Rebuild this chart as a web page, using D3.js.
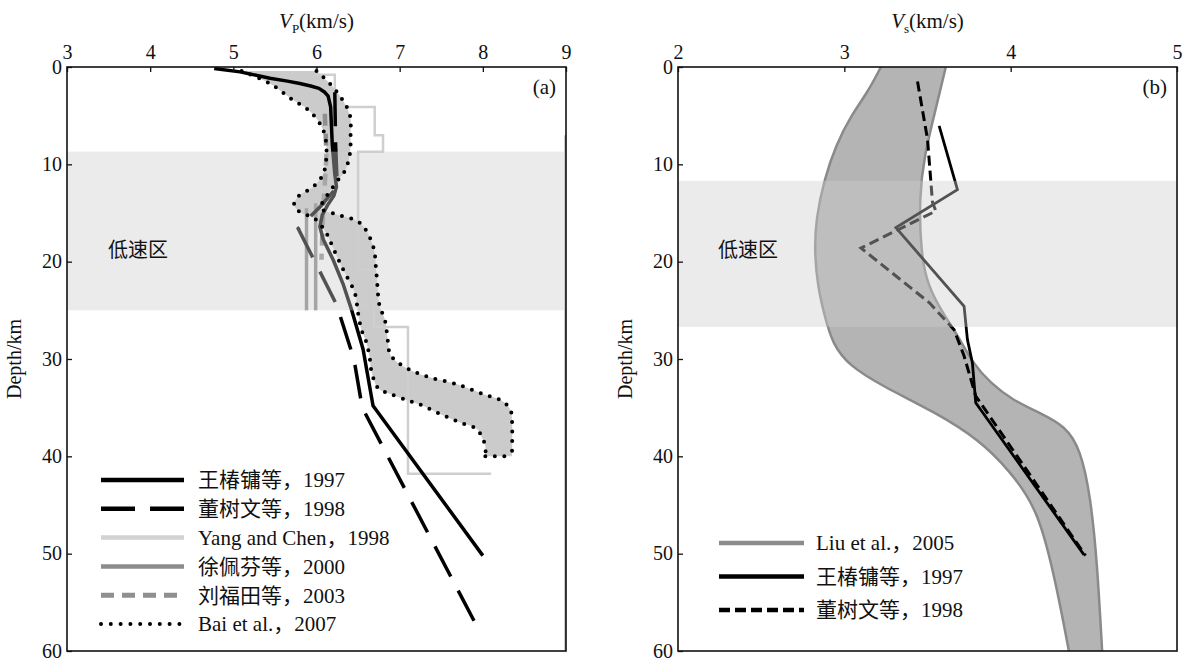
<!DOCTYPE html>
<html>
<head>
<meta charset="utf-8">
<script src="https://cdn.jsdelivr.net/npm/d3@7/dist/d3.min.js"></script>
<style>
  body { margin: 0; background: #fff; }
  svg text { font-family: "Liberation Serif", "Noto Sans CJK SC", serif; fill: #111; }
</style>
</head>
<body>
<svg width="1183" height="662"></svg>
<script>
// all profiles are [velocity km/s, depth km]
var depthTicks = [0, 10, 20, 30, 40, 50, 60];
var vpTicks = [3, 4, 5, 6, 7, 8, 9];
var vsTicks = [2, 3, 4, 5];
var lvzA = [8.7, 25];
var lvzB = [11.7, 26.7];

// panel (a) - Vp
var wangA = [[4.77,0.15],[5.08,0.5],[5.44,1.15],[5.65,1.45],[5.8,1.7],[5.93,1.95],[6.03,2.2],[6.1,2.6],[6.14,3.0],
  [6.17,4.1],[6.19,8],[6.22,11],[6.24,12.3],[6.21,13.2],[6.14,14.1],[6.07,15.2],[6.04,16.4],[6.08,17.7],[6.2,19.8],
  [6.32,22.3],[6.42,24.9],[6.56,29],[6.68,34.8],[8.0,50.2]];
var dongA = [[6.22,2.6],[6.23,8],[6.25,12.3],[6.05,14.3],[5.78,16.6],[6.24,24.4],[6.45,30],[6.55,35],[7.98,58.3]];
var yangA = [[6.0,0],[6.0,0.8],[6.22,0.8],[6.22,4.1],[6.7,4.1],[6.7,7],[6.8,7],[6.8,8.7],[6.5,8.7],[6.5,20.8],
  [6.69,20.8],[6.69,26.7],[7.1,26.7],[7.1,41.8],[8.1,41.8]];
var xuA = [[5.88,14.5],[5.88,25],null,[5.99,14],[5.99,25]];
var liuFTA = [[6.1,4.8],[6.12,9],[6.1,12],[6.08,14.5],[6.06,19.8]];
var baiLow = [[5.1,0.4],[5.44,1.7],[5.7,3.3],[5.9,4.4],[6.04,5.8],[6.1,7],[6.12,9],[6.08,11],[5.96,12.3],[5.78,13.3],
  [5.73,14.2],[5.8,14.9],[5.98,15.6],[6.12,17.1],[6.2,18.6],[6.32,20.8],[6.46,23.2],[6.5,25.3],[6.54,27],[6.6,28.3],
  [6.64,29.9],[6.66,31.2],[6.74,33],[6.86,33.5],[7.08,34.2],[7.28,34.8],[7.5,35.7],[7.72,36.5],[7.93,37.2],[7.99,38.1],
  [8.03,38.9],[8.03,40]];
var baiHigh = [[6.0,0.4],[6.16,1.7],[6.3,3.2],[6.4,4.9],[6.41,7],[6.4,9],[6.34,10.7],[6.26,11.6],[6.16,12.8],[6.08,13.8],
  [6.05,14.5],[6.22,15.1],[6.52,16],[6.68,18.4],[6.72,21.2],[6.76,24.6],[6.82,25.9],[6.86,28.3],[6.88,29.4],[6.94,30.1],
  [7.12,31.1],[7.37,31.9],[7.69,32.6],[8.0,33.6],[8.23,34.3],[8.33,35.2],[8.35,36.2],[8.35,40]];
var edgeA = [[9,7],[9,60]];
var legendA = ["王椿镛等，1997", "董树文等，1998", "Yang and Chen，1998", "徐佩芬等，2000", "刘福田等，2003", "Bai et al.，2007"];

// panel (b) - Vs
var liuLow = [[3.22,0],[3.14,2.6],[3.04,5],[2.95,8],[2.88,11.5],[2.83,15.5],[2.82,19],[2.84,22.5],[2.88,25.5],[2.93,28.5],
  [3.03,30.7],[3.23,32.8],[3.55,35.5],[3.81,38.3],[3.99,41.4],[4.17,45.5],[4.28,53.7],[4.35,60]];
var liuHigh = [[3.61,0],[3.55,4.3],[3.48,9.1],[3.45,13.5],[3.46,19],[3.5,22.5],[3.6,25.5],[3.68,27.5],[3.77,30.4],[3.88,32.5],
  [4.01,34.2],[4.17,35.5],[4.33,36.9],[4.42,39.3],[4.48,44.1],[4.52,50.9],[4.55,60]];
var wangB = [[3.57,6.05],[3.68,12.6],[3.31,16.5],[3.72,24.6],[3.74,28],[3.77,30.4],[3.79,34.5],[4.44,50.1]];
var dongB = [[3.44,1.5],[3.5,7.4],[3.53,13.9],[3.55,14.8],[3.1,18.6],[3.51,24.2],[3.66,27],[3.72,29.7],[3.79,33.8],[4.45,50.2]];
var legendB = ["Liu et al.，2005", "王椿镛等，1997", "董树文等，1998"];

var svg = d3.select("svg");
var top0 = 67, bottom0 = 651;

var xA = d3.scaleLinear().domain([3, 9]).range([67, 566]),
    xB = d3.scaleLinear().domain([2, 5]).range([678, 1177]),
    y = d3.scaleLinear().domain([0, 60]).range([top0, bottom0]);

function lineFor(x, curve) {
  return d3.line()
    .defined(function(d) { return d; })
    .x(function(d) { return x(d[0]); })
    .y(function(d) { return y(d[1]); })
    .curve(curve || d3.curveLinear);
}

// closed band between two curves, each one smoothed on its own
function band(gen, low, high) {
  return gen(low) + gen(high.slice().reverse()).replace(/^M/, "L") + "Z";
}

// clip paths for both panels
var defs = svg.append("defs");
[["clipA", xA], ["clipB", xB]].forEach(function(c) {
  defs.append("clipPath").attr("id", c[0]).append("rect")
    .attr("x", c[1].range()[0]).attr("y", top0)
    .attr("width", c[1].range()[1] - c[1].range()[0]).attr("height", bottom0 - top0);
});

// ---------- panel (a)
var gA = svg.append("g").attr("clip-path", "url(#clipA)");
var smooth = d3.curveCatmullRom.alpha(0.5);
var lineA = lineFor(xA), smoothA = lineFor(xA, smooth);

// Bai et al. envelope fill
gA.append("path")
  .attr("d", band(smoothA, baiLow, baiHigh))
  .attr("fill", "#cbcbcb");

gA.append("path").attr("d", lineA(yangA))
  .attr("fill", "none").attr("stroke", "#cfcfcf").attr("stroke-width", 2.5);
gA.append("path").attr("d", lineA(edgeA))
  .attr("fill", "none").attr("stroke", "#999").attr("stroke-width", 3);
gA.append("path").attr("d", lineA(xuA))
  .attr("fill", "none").attr("stroke", "#8a8a8a").attr("stroke-width", 3.5);
gA.append("path").attr("d", lineA(liuFTA))
  .attr("fill", "none").attr("stroke", "#8f8f8f").attr("stroke-width", 4.5)
  .attr("stroke-dasharray", "12,8");
gA.append("path").attr("d", lineA(dongA))
  .attr("fill", "none").attr("stroke", "#000").attr("stroke-width", 3.5)
  .attr("stroke-dasharray", "34,16");
gA.append("path").attr("d", lineA(wangA))
  .attr("fill", "none").attr("stroke", "#000").attr("stroke-width", 3.5)
  .attr("stroke-linejoin", "round");

// low velocity zone wash
gA.append("rect")
  .attr("x", xA(3)).attr("width", xA(9) - xA(3))
  .attr("y", y(lvzA[0])).attr("height", y(lvzA[1]) - y(lvzA[0]))
  .attr("fill", "rgb(205,205,205)").attr("fill-opacity", 0.4);

// Bai et al. dotted bounds
[baiLow, baiHigh].forEach(function(b) {
  gA.append("path").attr("d", smoothA(b))
    .attr("fill", "none").attr("stroke", "#000").attr("stroke-width", 4)
    .attr("stroke-linecap", "round").attr("stroke-dasharray", "0,9.5");
});
gA.append("path").attr("d", lineA([baiLow[baiLow.length - 1], baiHigh[baiHigh.length - 1]]))
  .attr("fill", "none").attr("stroke", "#000").attr("stroke-width", 4)
  .attr("stroke-linecap", "round").attr("stroke-dasharray", "0,9.5");

// ---------- panel (b)
var gB = svg.append("g").attr("clip-path", "url(#clipB)");
var lineB = lineFor(xB), smoothB = lineFor(xB, d3.curveBasis);

gB.append("path")
  .attr("d", band(smoothB, liuLow, liuHigh))
  .attr("fill", "#b4b4b4");
[liuLow, liuHigh].forEach(function(b) {
  gB.append("path").attr("d", smoothB(b))
    .attr("fill", "none").attr("stroke", "#8a8a8a").attr("stroke-width", 2.5);
});
gB.append("path").attr("d", lineB(dongB))
  .attr("fill", "none").attr("stroke", "#000").attr("stroke-width", 3)
  .attr("stroke-dasharray", "10,5");
gB.append("path").attr("d", lineB(wangB))
  .attr("fill", "none").attr("stroke", "#000").attr("stroke-width", 2.8);

gB.append("rect")
  .attr("x", xB(2)).attr("width", xB(5) - xB(2))
  .attr("y", y(lvzB[0])).attr("height", y(lvzB[1]) - y(lvzB[0]))
  .attr("fill", "rgb(205,205,205)").attr("fill-opacity", 0.4);

// ---------- frames, axes, labels
function frame(x, ticks, sub, tag, lvzLabelX) {
  var x0 = x.range()[0], x1 = x.range()[1];
  svg.append("rect")
    .attr("x", x0).attr("y", top0).attr("width", x1 - x0).attr("height", bottom0 - top0)
    .attr("fill", "none").attr("stroke", "#111").attr("stroke-width", 1.6);

  var ax = svg.append("g").attr("transform", "translate(0," + top0 + ")")
    .call(d3.axisTop(x).tickValues(ticks).tickSize(-5).tickPadding(8).tickFormat(d3.format("d")));
  var ay = svg.append("g").attr("transform", "translate(" + x0 + ",0)")
    .call(d3.axisLeft(y).tickValues(depthTicks).tickSize(-5).tickPadding(5));
  [ax, ay].forEach(function(a) {
    a.select(".domain").remove();
    a.selectAll("line").attr("stroke", "#111").attr("stroke-width", 1.3);
    a.selectAll("text").style("font-size", "20px").attr("fill", "#111")
      .style("font-family", "'Liberation Serif', serif");
  });
  ay.selectAll("text").attr("dy", "0.3em");

  var t = svg.append("text")
    .attr("x", (x0 + x1) / 2).attr("y", 28)
    .attr("text-anchor", "middle").style("font-size", "21px");
  t.append("tspan").text("V").style("font-style", "italic");
  t.append("tspan").text(sub).attr("dy", 5).style("font-size", "13px");
  t.append("tspan").text("(km/s)").attr("dy", -5);

  svg.append("text")
    .attr("transform", "translate(" + (x0 - 46) + "," + 359 + ") rotate(-90)")
    .attr("text-anchor", "middle").style("font-size", "20px")
    .text("Depth/km");

  svg.append("text")
    .attr("x", x1 - 10).attr("y", 94)
    .attr("text-anchor", "end").style("font-size", "21px")
    .text(tag);

  svg.append("text")
    .attr("x", lvzLabelX).attr("y", 257)
    .style("font-size", "20px")
    .text("低速区");
}
frame(xA, vpTicks, "P", "(a)", 108);
frame(xB, vsTicks, "s", "(b)", 718);

// ---------- legends
var styleA = [
  {stroke: "#000", width: 4.5},
  {stroke: "#000", width: 4.5, dash: "34,15"},
  {stroke: "#d2d2d2", width: 4.5},
  {stroke: "#8c8c8c", width: 4.5},
  {stroke: "#8f8f8f", width: 5, dash: "13,8"},
  {stroke: "#000", width: 4, dash: "0,9.8", cap: "round"}
];
var styleB = [
  {stroke: "#8c8c8c", width: 4.5},
  {stroke: "#000", width: 4.5},
  {stroke: "#000", width: 4.5, dash: "11,5"}
];

function legend(names, styles, lx0, lx1, tx, y0, step) {
  var g = svg.append("g");
  var row = g.selectAll("g").data(names).enter().append("g")
    .attr("transform", function(d, i) { return "translate(0," + (y0 + i * step) + ")"; });
  row.append("line")
    .attr("x1", lx0).attr("x2", lx1)
    .attr("stroke", function(d, i) { return styles[i].stroke; })
    .attr("stroke-width", function(d, i) { return styles[i].width; })
    .attr("stroke-dasharray", function(d, i) { return styles[i].dash || null; })
    .attr("stroke-linecap", function(d, i) { return styles[i].cap || "butt"; });
  row.append("text")
    .attr("x", tx).attr("dy", "0.35em")
    .style("font-size", "21px")
    .text(function(d) { return d; });
}
legend(legendA, styleA, 101, 184, 198, 480, 28.8);
legend(legendB, styleB, 719, 804, 816, 543, 33.5);
</script>
</body>
</html>
